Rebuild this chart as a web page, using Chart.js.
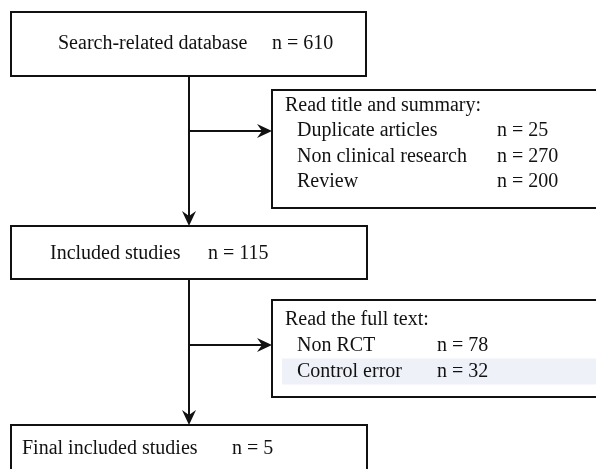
<!DOCTYPE html>
<html>
  <head>
    <title>Study selection flow</title>
    <script src="https://cdn.jsdelivr.net/npm/chart.js"></script>
    <style>
      html, body { margin: 0; padding: 0; background: #fff; }
      #wrap { width: 596px; height: 469px; }
    </style>
  </head>
  <body>
    <div id="wrap"><canvas id="flow"></canvas></div>

    <script>
      // data
      var stages = ["Search-related database", "Included studies", "Final included studies"];
      var stageCounts = [610, 115, 5];
      var screenTitles = ["Read title and summary:", "Read the full text:"];
      var titleReasons = ["Duplicate articles", "Non clinical research", "Review"];
      var titleCounts = [25, 270, 200];
      var fullReasons = ["Non RCT", "Control error"];
      var fullCounts = [78, 32];

      // layout (in axis units, 1 unit = 1 px of the page)
      var stageBoxes = [
        { x0: 11, x1: 366, y0: 12, y1: 76, tx: 58, nx: 272, ty: 44 },
        { x0: 11, x1: 367, y0: 226, y1: 279, tx: 50, nx: 208, ty: 254 },
        { x0: 11, x1: 367, y0: 425, y1: 480, tx: 22, nx: 232, ty: 449 },
      ];
      var sideBoxes = [
        { x0: 272, x1: 610, y0: 90, y1: 208, tx: 285, ix: 297, nx: 497, ty: 105.5, step: 25.5, arrowY: 131 },
        { x0: 272, x1: 610, y0: 300, y1: 397, tx: 285, ix: 297, nx: 437, ty: 319.5, step: 26, arrowY: 345 },
      ];
      var spineX = 189;

      var flowPlugin = {
        id: "flowPlugin",
        afterDraw: function (chart) {
          var ctx = chart.ctx;
          var X = function (v) { return chart.scales.x.getPixelForValue(v); };
          var Y = function (v) { return chart.scales.y.getPixelForValue(v); };

          ctx.save();
          ctx.strokeStyle = "#111";
          ctx.fillStyle = "#111";
          ctx.lineWidth = 2;

          function box(b) {
            ctx.strokeRect(X(b.x0), Y(b.y0), X(b.x1) - X(b.x0), Y(b.y1) - Y(b.y0));
          }
          function line(x0, y0, x1, y1) {
            ctx.beginPath();
            ctx.moveTo(X(x0), Y(y0));
            ctx.lineTo(X(x1), Y(y1));
            ctx.stroke();
          }
          // barbed arrow head, dir: "down" or "right"
          function head(x, y, dir) {
            var px = X(x), py = Y(y);
            ctx.beginPath();
            if (dir === "down") {
              ctx.moveTo(px, py);
              ctx.lineTo(px - 7, py - 15);
              ctx.lineTo(px, py - 10);
              ctx.lineTo(px + 7, py - 15);
            } else {
              ctx.moveTo(px, py);
              ctx.lineTo(px - 15, py - 7);
              ctx.lineTo(px - 10, py);
              ctx.lineTo(px - 15, py + 7);
            }
            ctx.closePath();
            ctx.fill();
          }

          // highlight band behind "Control error"
          var sb = sideBoxes[1];
          var bandY = sb.ty + sb.step * 2;
          ctx.fillStyle = "#eef1f8";
          ctx.fillRect(X(282), Y(bandY - 13), X(600) - X(282), Y(bandY + 13) - Y(bandY - 13));
          ctx.fillStyle = "#111";

          // spine
          line(spineX, stageBoxes[0].y1, spineX, stageBoxes[1].y0 - 4);
          head(spineX, stageBoxes[1].y0, "down");
          line(spineX, stageBoxes[1].y1, spineX, stageBoxes[2].y0 - 4);
          head(spineX, stageBoxes[2].y0, "down");

          sideBoxes.forEach(function (b) {
            line(spineX, b.arrowY, b.x0 - 4, b.arrowY);
            head(b.x0, b.arrowY, "right");
          });

          stageBoxes.forEach(box);
          sideBoxes.forEach(box);

          // text
          ctx.font = "20px 'Liberation Serif', 'Times New Roman', serif";
          ctx.textBaseline = "middle";
          ctx.textAlign = "left";
          ctx.fillStyle = "#111";

          stages.forEach(function (s, i) {
            var b = stageBoxes[i];
            ctx.fillText(s, X(b.tx), Y(b.ty));
            ctx.fillText("n = " + stageCounts[i], X(b.nx), Y(b.ty));
          });

          var groups = [
            { reasons: titleReasons, counts: titleCounts },
            { reasons: fullReasons, counts: fullCounts },
          ];
          groups.forEach(function (g, k) {
            var b = sideBoxes[k];
            ctx.fillText(screenTitles[k], X(b.tx), Y(b.ty));
            g.reasons.forEach(function (r, i) {
              var yy = b.ty + b.step * (i + 1);
              ctx.fillText(r, X(b.ix), Y(yy));
              ctx.fillText("n = " + g.counts[i], X(b.nx), Y(yy));
            });
          });

          ctx.restore();
        },
      };

      new Chart(document.getElementById("flow"), {
        type: "scatter",
        data: { datasets: [{ data: [], pointRadius: 0 }] },
        options: {
          responsive: true,
          maintainAspectRatio: false,
          animation: false,
          layout: { padding: 0 },
          plugins: { legend: { display: false }, tooltip: { enabled: false } },
          scales: {
            x: { type: "linear", min: 0, max: 596, display: false },
            y: { type: "linear", min: 0, max: 469, reverse: true, display: false },
          },
        },
        plugins: [flowPlugin],
      });
    </script>
  </body>
</html>
